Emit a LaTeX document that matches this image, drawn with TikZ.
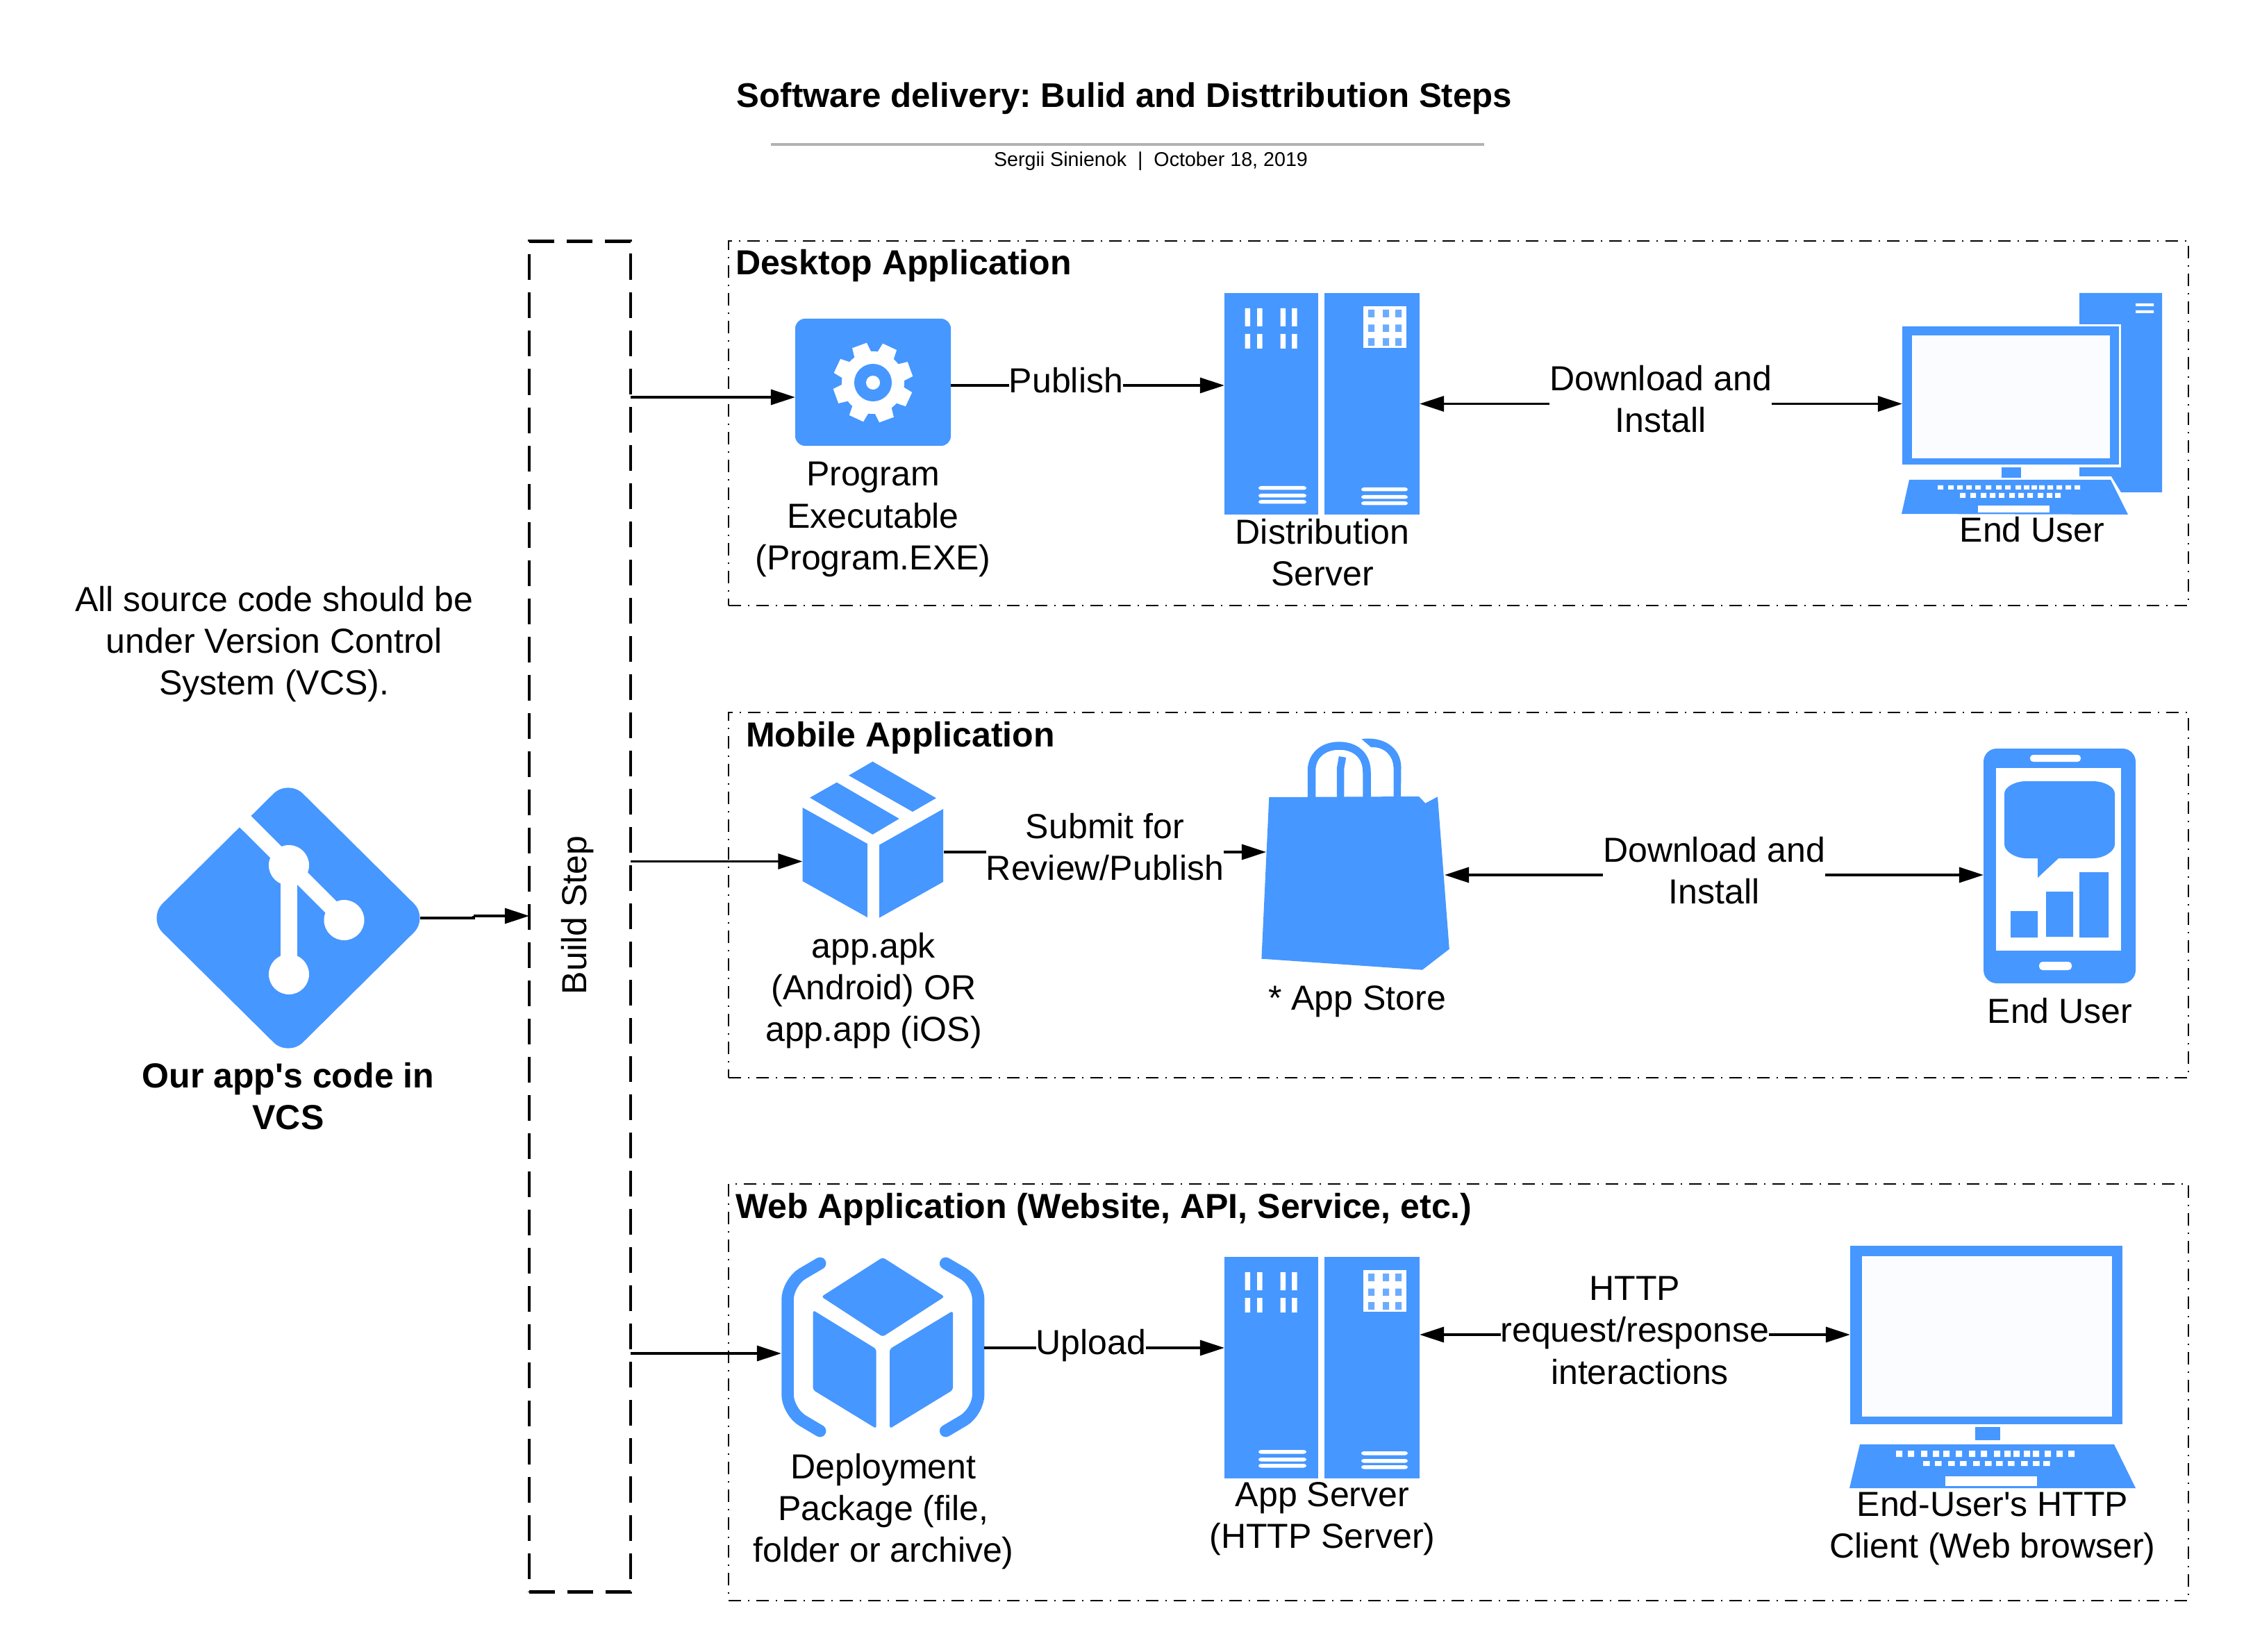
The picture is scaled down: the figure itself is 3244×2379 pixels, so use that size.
\documentclass[tikz,border=0pt]{standalone}
\usepackage{fontspec}
\setmainfont{Liberation Sans}
\usetikzlibrary{arrows.meta}
\definecolor{ib}{HTML}{4697FF}
\definecolor{il}{HTML}{6CACFF}
\definecolor{scr}{HTML}{FBFCFF}
\tikzset{
  x=0.01cm,y=-0.01cm,
  iconbox/.style={inner sep=0pt,outer sep=0pt,draw=none,fill=none},
  grp/.style={draw=black,line width=0.02cm,dash pattern=on 0.18cm off 0.10cm on 0.02cm off 0.10cm,inner sep=0pt,outer sep=0pt,minimum width=21cm},
  conn/.style={line width=0.033cm,-{Triangle[length=0.35cm,width=0.22cm]}},
  conn2/.style={line width=0.033cm,{Triangle[length=0.35cm,width=0.22cm]}-{Triangle[length=0.35cm,width=0.22cm]}},
  lab/.style={align=center,inner sep=0pt,outer sep=0pt,font=\fontsize{14.23pt}{17.07pt}\selectfont},
  clab/.style={lab,fill=white},
  blab/.style={lab,font=\fontsize{14.23pt}{17.07pt}\selectfont\bfseries},
  gtitle/.style={blab,anchor=west},
}
\newcommand{\servericon}[2]{%
\begin{scope}[shift={(0,#2)}]
\node[iconbox,minimum width=2.81cm,minimum height=3.19cm] (#1) at (1903.5,581.5) {};
\fill[ib] (1763,422) rectangle (1898,741);
\fill[ib] (1907,422) rectangle (2044,741);
\fill[white] \foreach \a in {1792.5,1810,1843.5,1860} {(\a,444) rectangle (\a+7.5,470) (\a,481) rectangle (\a+7.5,502)};
\fill[white,rounded corners=1pt] (1812,700) rectangle (1881,705.5) (1812,711) rectangle (1881,716.5) (1812,720) rectangle (1881,725.5);
\fill[white,rounded corners=1pt] (1960,702) rectangle (2027,707.5) (1960,713) rectangle (2027,718.5) (1960,722) rectangle (2027,727.5);
\fill[white] (1963,441) rectangle (2025,501);
\fill[il] \foreach \a in {1970,1991,2009} {(\a,446) rectangle (\a+9,457) (\a,467.5) rectangle (\a+9,478) (\a,487) rectangle (\a+9,498)};
\end{scope}}
\begin{document}
\begin{tikzpicture}
\frenchspacing
\useasboundingbox (0,0) rectangle (3244,2379);
% title
\node[lab,font=\fontsize{14pt}{17pt}\selectfont\bfseries] (title) at (1619,142) {Software delivery: Bulid and Disttribution Steps};
\node[iconbox] (rulea) at (1108,207.7) {};
\node[iconbox] (ruleb) at (2138.5,207.7) {};
\draw[color=black!30,line width=0.037cm] (rulea) -- (ruleb);
\node[lab,font=\fontsize{8.15pt}{10pt}\selectfont] (sub) at (1657,232) {Sergii Sinienok\ \ |\ \ October 18, 2019};
% groups
\node[grp,minimum height=5.25cm] (g1) at (2100,609.5) {};
\node[grp,minimum height=5.26cm] (g2) at (2100,1289) {};
\node[grp,minimum height=6.00cm] (g3) at (2100,2005) {};
\node[gtitle] (g1t) at (1059,383) {Desktop Application};
\node[gtitle] (g2t) at (1074,1063) {Mobile Application};
\node[gtitle] (g3t) at (1059,1742) {Web Application (Website, API, Service, etc.)};
% build
\node[draw=black,line width=0.045cm,dash pattern=on 0.37cm off 0.18cm,inner sep=0pt,outer sep=0pt,minimum width=1.46cm,minimum height=19.44cm] (build) at (835,1320) {};
\node[lab,rotate=90] (buildt) at (832,1318) {Build Step};
% git
\node[iconbox,minimum width=3.8cm,minimum height=3.75cm] (git) at (415,1322) {};
\fill[ib,rounded corners=0.3cm] (415,1122) -- (617,1322) -- (415,1522) -- (213,1322) -- cycle;
\draw[white,line width=0.23cm] (352,1182) -- (495.5,1325);
\draw[white,line width=0.23cm] (416,1246) -- (416,1403);
\fill[white] (416,1246) circle (0.29cm) (495.5,1325) circle (0.29cm) (416,1403) circle (0.29cm);
\node[blab] (gitl) at (415,1579) {Our app\textquotesingle s code in\\VCS};
\node[lab] (note) at (395,928) {All source code should be\\under Version Control\\System (VCS).};
% program
\node[iconbox,minimum width=2.24cm,minimum height=1.83cm] (prog) at (1257,550.5) {};
\fill[ib,rounded corners=0.14cm] (1145,459) rectangle (1369,642);
\begin{scope}[shift={(1257,551)}]
\foreach \a in {-110,-65,-20,25,70,115,160,205}
  \fill[white] (\a-18:42) -- (\a-11:58) -- (\a+11:58) -- (\a+18:42) -- cycle;
\fill[white] (0,0) circle (0.45cm);
\fill[ib] (0,0) circle (0.27cm);
\fill[white] (0,0) circle (0.10cm);
\end{scope}
\node[lab] (progl) at (1257,748) {Program\\Executable\\(Program.EXE)};
% servers
\servericon{srv1}{0}
\servericon{srv2}{1388}
\node[lab] (srv1l) at (1904,796) {Distribution\\Server};
\node[lab] (srv2l) at (1904,2187) {App Server\\(HTTP Server)};
% desktop computer
\node[iconbox,minimum width=3.74cm,minimum height=3.19cm] (pc) at (2926,581.5) {};
\fill[ib] (2994,422) -- (3113,422) -- (3113,709) -- (3054,709) -- (3040,686) -- (2994,686) -- cycle;
\fill[white] (3075,437) rectangle (3101,441) (3075,447) rectangle (3101,451);
\fill[white] (2994,467) rectangle (3054,673);
\fill[ib] (2739,470) rectangle (3051,669);
\fill[scr] (2753,483) rectangle (3038,660);
\fill[ib] (2882,673) rectangle (2910,688);
\fill[ib] (2749,691) -- (3039,691) -- (3064,741) -- (2738,740) -- cycle;
\fill[white] \foreach \k in {2790,2805,2818,2831,2844,2859,2874,2887,2902,2914,2925,2936,2948,2961,2974,2987} {(\k,699) rectangle (\k+8,705)};
\fill[white] \foreach \k in {2822,2837,2852,2865,2878,2893,2906,2919,2934,2947,2959} {(\k,710) rectangle (\k+8,717)};
\fill[white] (2848,728) rectangle (2951,738);
\node[lab] (pcl) at (2926,763) {End User};
% app
\node[iconbox,minimum width=2.03cm,minimum height=2.25cm] (app) at (1257,1209) {};
\fill[ib] (1155.7,1163) -- (1248.8,1215) -- (1248.8,1321) -- (1155.7,1269) -- cycle;
\fill[ib] (1266,1216.7) -- (1358,1165) -- (1358,1270) -- (1266,1321.7) -- cycle;
\fill[ib] (1204.8,1126.7) -- (1294.7,1179) -- (1256.5,1201.7) -- (1166,1148.7) -- cycle;
\fill[ib] (1256.5,1096.7) -- (1348,1149.3) -- (1314,1169) -- (1222,1116.7) -- cycle;
\node[lab] (appl) at (1258,1427) {app.apk\\(Android) OR\\app.app (iOS)};
% bag
\node[iconbox,minimum width=2.57cm,minimum height=3.32cm] (bag) at (1951.5,1231) {};
\fill[ib] (1827.3,1148) -- (2042.8,1147) -- (2052.4,1156.7) -- (2070,1147.3) -- (2086.8,1366.7) -- (2047.9,1396.7) -- (1816.4,1380.7) -- cycle;
\draw[ib,line width=0.115cm] (1888.5,1150) -- (1888.5,1110) .. controls (1888.5,1088) and (1905,1074) .. (1928,1074) .. controls (1952,1074) and (1968,1088) .. (1968,1112) -- (1968,1150);
\draw[ib,line width=0.105cm] (1930,1150) -- (1930,1107) -- (1933,1090);
\fill[ib] (1960.5,1064.3) .. controls (1990,1060) and (2017,1075) .. (2017.5,1105) -- (2017,1148) -- (2006.5,1148) -- (2006.5,1105) .. controls (2006,1090) and (1995,1075) .. (1974,1076) -- cycle;
\node[lab] (bagl) at (1954,1442) {* App Store};
% phone
\node[iconbox,minimum width=2.19cm,minimum height=3.38cm] (phone) at (2965.5,1247) {};
\fill[ib,rounded corners=0.19cm] (2856,1078) rectangle (3075,1416);
\fill[white,rounded corners=0.045cm] (2923,1087) rectangle (2996,1097);
\fill[white] (2874,1106) rectangle (3054,1369);
\fill[ib] (2886,1143) .. controls (2886,1133) and (2902,1125) .. (2917,1125) -- (3014,1125) .. controls (3029,1125) and (3045,1133) .. (3045,1143) -- (3045,1216) .. controls (3045,1226) and (3029,1236) .. (3014,1236) -- (2964,1236) -- (2934,1264) -- (2934,1236) -- (2917,1236) .. controls (2902,1236) and (2886,1226) .. (2886,1216) -- cycle;
\fill[ib] (2895,1312) rectangle (2934,1350) (2946,1284) rectangle (2985,1349) (2994,1256) rectangle (3036,1350);
\fill[white,rounded corners=0.05cm] (2936,1385) rectangle (2983,1397);
\node[lab] (phonel) at (2966,1456) {End User};
% deployment
\node[iconbox,minimum width=2.92cm,minimum height=2.6cm] (dep) at (1271,1935) {};
\draw[ib,line width=0.175cm,line cap=round,rounded corners=0.25cm] (1180.7,1819.3) -- (1134,1846.7) -- (1134,2033) -- (1180.7,2060.7);
\draw[ib,line width=0.175cm,line cap=round,rounded corners=0.25cm] (1361.7,1819.3) -- (1408.7,1846.7) -- (1408.7,2033) -- (1361.7,2060.7);
\fill[ib,rounded corners=1pt] (1271,1810.7) -- (1360,1867.3) -- (1271,1925) -- (1182.7,1867.3) -- cycle;
\fill[ib,rounded corners=1pt] (1170.7,1886.7) -- (1261.7,1942.7) -- (1261.7,2057.3) -- (1170.7,2001.7) -- cycle;
\fill[ib,rounded corners=1pt] (1281,1942.7) -- (1372,1887.7) -- (1372,2001.7) -- (1281,2057.3) -- cycle;
\node[lab] (depl) at (1272,2177) {Deployment\\Package (file,\\folder or archive)};
% laptop
\node[iconbox,minimum width=4.11cm,minimum height=3.49cm] (lap) at (2869.5,1968.5) {};
\fill[ib] (2664,1794) rectangle (3056,2051);
\fill[scr] (2681,1809) rectangle (3041,2040);
\fill[ib] (2844,2055) rectangle (2880,2074);
\fill[ib] (2678,2080) -- (3044,2080) -- (3075,2143) -- (2663,2143) -- cycle;
\fill[white] \foreach \k in {2730,2747,2766,2783,2798,2816,2835,2852,2871,2886,2899,2914,2927,2944,2961,2978} {(\k,2089) rectangle (\k+9,2098)};
\fill[white] \foreach \k in {2769,2786,2805,2822,2841,2858,2874,2891,2910,2927,2942} {(\k,2104) rectangle (\k+9.5,2111)};
\fill[white] (2801,2126) rectangle (2933,2140);
\node[lab] (lapl) at (2869,2201) {End-User\textquotesingle s HTTP\\Client (Web browser)};
% connectors
\draw[line width=0.033cm] (git.east) -- (682,1322) -- (682,1319);
\coordinate (gitj) at (682,1319);
\draw[conn] (gitj) -- (build.west |- gitj);
\draw[conn] (build.east |- 0,572) -- (prog.west |- 0,572);
\draw[conn] (build.east |- 0,1240.5) -- (app.west |- 0,1240.5);
\draw[conn] (build.east |- 0,1949) -- (dep.west |- 0,1949);
\draw[conn] (prog.east |- 0,555) -- (srv1.west |- 0,555);
\draw[conn2] (srv1.east |- 0,581.5) -- (pc.west |- 0,581.5);
\draw[conn] (app.east |- 0,1227) -- (1823,1227);
\draw[conn2] (2080,1260) -- (phone.west |- 0,1260);
\draw[conn] (dep.east |- 0,1941) -- (srv2.west |- 0,1941);
\draw[conn2] (srv2.east |- 0,1922) -- (lap.west |- 0,1922);
% connector labels
\node[clab] (l1) at (1535,548) {Publish};
\node[clab] (l2) at (2391,575) {Download and\\Install};
\node[clab] (l3) at (1591,1220) {Submit for\\Review/Publish};
\node[clab] (l4) at (2468,1254) {Download and\\Install};
\node[clab] (l5) at (1571,1938) {Upload};
\node[clab] (l6) at (2354,1916) {HTTP\\request/response\\\hspace*{0.14cm}interactions};
\end{tikzpicture}
\end{document}
